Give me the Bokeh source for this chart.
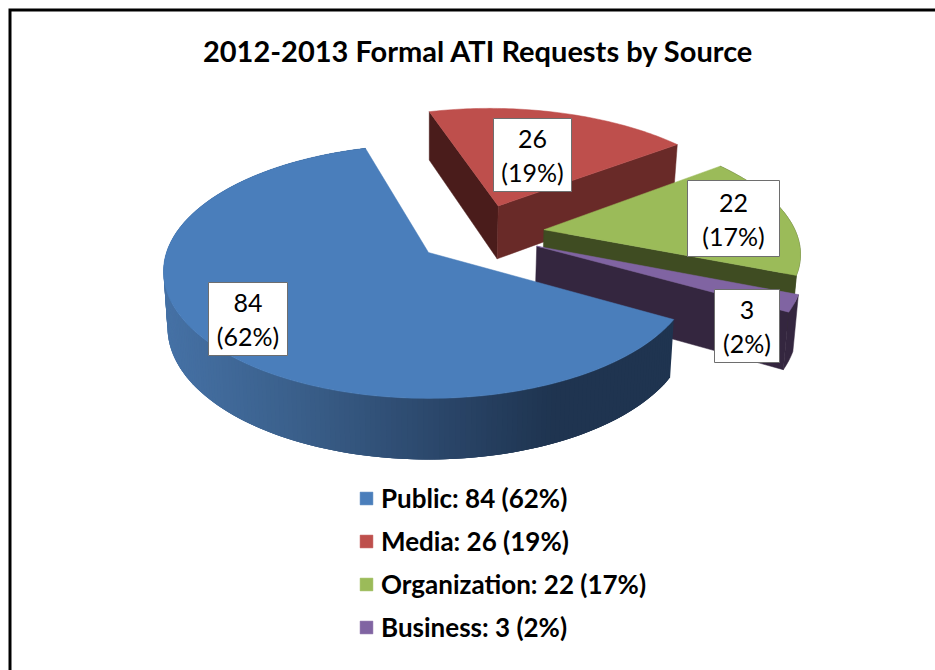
import numpy as np
from bokeh.plotting import figure
from bokeh.models import Label, Legend, LegendItem
from bokeh.core.properties import value
from bokeh.embed import file_html
from bokeh.resources import INLINE

title_text = "2012-2013 Formal ATI Requests by Source"
categories = ["Public", "Media", "Organization", "Business"]
counts = [84, 26, 22, 3]
percents = [62, 19, 17, 2]

top_colors = ["#4A7EBB", "#BE4F4C", "#9BBB59", "#8064A2"]
start_face = [None, "#4A1C1B", None, None]
end_face = [None, "#692A28", "#3F4C22", "#34263F"]
rim_face = ["grad", None, "#3F4C22", "#34263F"]
explode = [0.2545, 0.2545, 0.2545, 0.24]
radius = [1.0, 1.01, 0.985, 1.0]
grad_x = [163, 300, 450, 550, 672]
grad_rgb = [(70, 114, 166), (58, 95, 138), (42, 69, 104), (31, 53, 81), (31, 52, 80)]

FONT = value("Lato")
AX, AY, K, M, P = 428.0, 252.0, 262.0, 124.0, 0.15
DEPTH, DP, SHRINK = 55.0, 0.10, 0.985
FIRST_ANGLE = 120.0

def project(u, v):
    w = 1 + P * v
    return AX + K * u / w, AY - M * v / w

def project_bottom(u, v):
    x, y = project(u, v)
    return AX + (x - AX) * SHRINK, y + DEPTH / (1 + DP * v)

p = figure(width=935, height=670, x_range=(0, 935), y_range=(670, 0),
           output_backend="svg", toolbar_location=None,
           x_axis_location=None, y_axis_location=None, min_border=0,
           outline_line_color=None, background_fill_color="white")
p.grid.visible = False

total = sum(counts)
spans = np.array(counts) / total * 360.0
starts = FIRST_ANGLE + np.concatenate([[0], np.cumsum(spans)[:-1]])
mid0 = np.radians(starts[0] + spans[0] / 2)
base_u, base_v = -explode[0] * np.sin(mid0), -explode[0] * np.cos(mid0)

def poly(xs, ys, color):
    return p.patches([list(xs)], [list(ys)], fill_color=color, line_color=color, line_width=0.5)

top_renderers = {}
for i in [1, 2, 3, 0]:
    mid = np.radians(starts[i] + spans[i] / 2)
    cu = base_u + explode[i] * np.sin(mid)
    cv = base_v + explode[i] * np.cos(mid)
    th = np.radians(np.linspace(starts[i], starts[i] + spans[i], max(int(spans[i]), 8) + 1))
    ru, rv = cu + radius[i] * np.sin(th), cv + radius[i] * np.cos(th)
    tx, ty = project(ru, rv)
    bx, by = project_bottom(ru, rv)
    ax, ay = project(cu, cv)
    abx, aby = project_bottom(cu, cv)
    if rim_face[i] == "grad":
        n = len(th)
        for j in range(n - 1):
            e = min(j + 3, n - 1)
            xc = (tx[j] + tx[j + 1]) / 2
            rgb = [int(np.interp(xc, grad_x, [c[k] for c in grad_rgb])) for k in range(3)]
            col = "#%02x%02x%02x" % tuple(rgb)
            p.patches([[tx[j], tx[e], bx[e], bx[j]]], [[ty[j], ty[e], by[e], by[j]]],
                      fill_color=col, line_color=None)
    elif rim_face[i]:
        poly(list(tx) + list(bx[::-1]), list(ty) + list(by[::-1]), rim_face[i])
    if start_face[i]:
        poly([ax, tx[0], bx[0], abx], [ay, ty[0], by[0], aby], start_face[i])
    if end_face[i]:
        poly([ax, tx[-1], bx[-1], abx], [ay, ty[-1], by[-1], aby], end_face[i])
    top_renderers[i] = poly([ax] + list(tx), [ay] + list(ty), top_colors[i])

# value boxes
box_left = [208, 493, 687, 714]
box_right = [287, 571, 779, 779]
box_top = [282, 118, 180, 289]
box_bottom = [355, 191, 256, 362]
p.quad(left=box_left, right=box_right, top=box_top, bottom=box_bottom,
       fill_color="white", line_color="#6E6E6E", line_width=1)
for i in range(4):
    xc = (box_left[i] + box_right[i]) / 2
    yc = (box_top[i] + box_bottom[i]) / 2
    p.text([xc], [yc - 16], text=[str(counts[i])], text_font=FONT, text_font_size="25px",
           text_align="center", text_baseline="middle", text_color="black")
    p.text([xc], [yc + 17], text=["(%d%%)" % percents[i]], text_font=FONT, text_font_size="25px",
           text_align="center", text_baseline="middle", text_color="black")

p.add_layout(Label(x=478, y=50, text=title_text, text_font="Lato", text_font_style="bold",
                   text_font_size="29px", text_align="center", text_baseline="middle",
                   text_color="black"))
# slide frame: only its left and top edges fall inside the picture
p.line([9.5, 9.5, 935], [670, 9.5, 9.5], line_color="black", line_width=3, line_join="miter")

items = [LegendItem(label="%s: %d (%d%%)" % (categories[i], counts[i], percents[i]),
                    renderers=[top_renderers[i]]) for i in range(4)]
legend = Legend(items=items, location=(358, 27), orientation="vertical",
                glyph_width=16, glyph_height=16, label_height=16, spacing=11, padding=0, margin=0,
                label_standoff=7, border_line_color=None, background_fill_alpha=0,
                label_text_font="Lato", label_text_font_style="bold", label_text_font_size="26px",
                label_text_color="black")
p.add_layout(legend)

open("out.html", "w").write(file_html(p, INLINE))
